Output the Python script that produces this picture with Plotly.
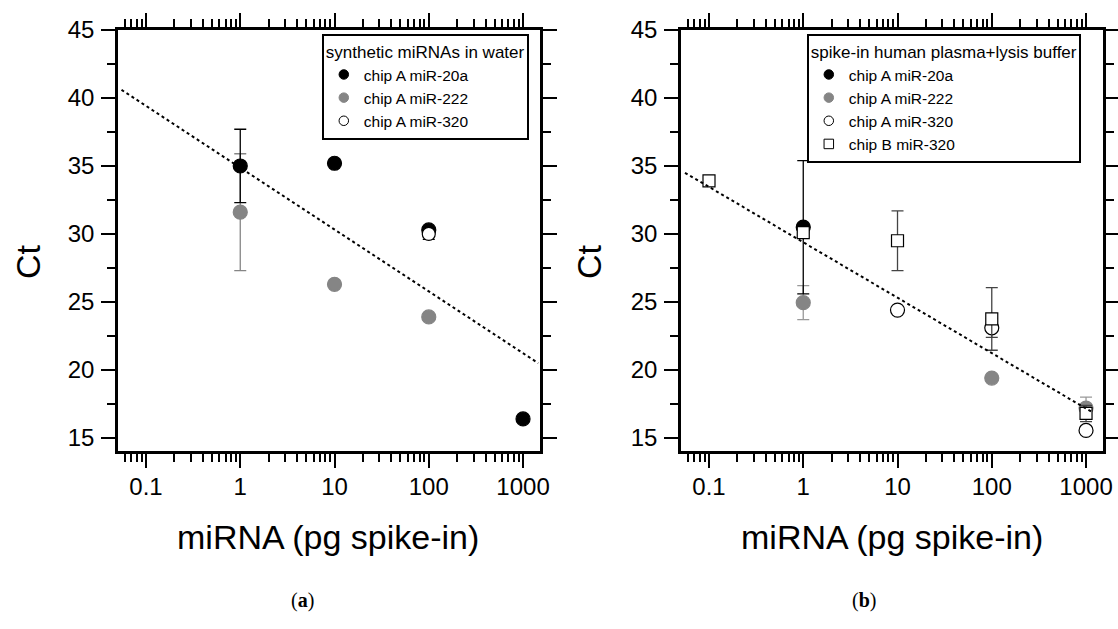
import plotly.graph_objects as go

W, H = 1118, 629

# ---------------- Panel (a): synthetic miRNAs in water ----------------
a_20a_x = [1, 10, 100, 1000]
a_20a_y = [35.0, 35.2, 30.3, 16.4]
a_20a_err = [2.7, None, None, None]

a_222_x = [1, 10, 100]
a_222_y = [31.6, 26.3, 23.9]
a_222_err = [4.3, None, None]

a_320_x = [100]
a_320_y = [30.0]
a_320_err = [0.4]

a_fit_x = [0.055, 1450]
a_fit_y = [40.6, 20.5]

# ---------------- Panel (b): spike-in human plasma+lysis buffer ----------------
b_20a_x = [1]
b_20a_y = [30.5]
b_20a_err = [4.9]

b_222_x = [1, 100, 1000]
b_222_y = [24.95, 19.4, 17.2]
b_222_err = [1.25, None, 0.8]

b_320A_x = [10, 100, 1000]
b_320A_y = [24.4, 23.1, 15.55]
b_320A_err = [None, 0.7, None]

b_320B_x = [0.1, 1, 10, 100, 1000]
b_320B_y = [33.9, 30.1, 29.5, 23.75, 16.8]
b_320B_err = [None, None, 2.2, 2.3, 0.6]

b_fit_x = [0.0556, 1160]
b_fit_y = [34.5, 16.9]

legend_a_title = "synthetic miRNAs in water"
legend_b_title = "spike-in human plasma+lysis buffer"
labels_a = ["chip A miR-20a", "chip A miR-222", "chip A miR-320"]
labels_b = ["chip A miR-20a", "chip A miR-222", "chip A miR-320", "chip B miR-320"]

y_ticks = [15, 20, 25, 30, 35, 40, 45]
x_ticks = [0.1, 1, 10, 100, 1000]
x_ticklabels = ["0.1", "1", "10", "100", "1000"]

GRAY = "#858585"
BLACK = "#000000"

fig = go.Figure()


def err(arr, color):
    return dict(type="data", array=arr, color=color, thickness=1.3, width=6, visible=True)


def add_panel(xa, ya, traces, fit_x, fit_y, legend_name, legend_entries):
    for (x, y, e, sym, size, fill, line_col, ecol) in traces:
        fig.add_trace(go.Scatter(
            x=x, y=y, mode="markers", xaxis=xa, yaxis=ya, showlegend=False,
            marker=dict(symbol=sym, size=size, color=fill,
                        line=dict(color=line_col, width=1.2)),
            error_y=err(e, ecol),
        ))
    fig.add_trace(go.Scatter(
        x=fit_x, y=fit_y, mode="lines", xaxis=xa, yaxis=ya, showlegend=False,
        line=dict(color="black", width=2, dash="dot"),
    ))
    for (name, sym, fill, line_col) in legend_entries:
        fig.add_trace(go.Scatter(
            x=[None], y=[None], mode="markers", xaxis=xa, yaxis=ya, name=name,
            legend=legend_name, showlegend=True,
            marker=dict(symbol=sym, size=9.5, color=fill,
                        line=dict(color=line_col, width=1)),
        ))


add_panel(
    "x", "y",
    [
        (a_222_x, a_222_y, a_222_err, "circle", 14, GRAY, GRAY, GRAY),
        (a_20a_x, a_20a_y, a_20a_err, "circle", 14, BLACK, BLACK, BLACK),
        (a_320_x, a_320_y, a_320_err, "circle", 13, "white", BLACK, BLACK),
    ],
    a_fit_x, a_fit_y, "legend",
    [
        (labels_a[0], "circle", BLACK, BLACK),
        (labels_a[1], "circle", GRAY, GRAY),
        (labels_a[2], "circle", "white", BLACK),
    ],
)

add_panel(
    "x2", "y2",
    [
        (b_222_x, b_222_y, b_222_err, "circle", 14, GRAY, GRAY, "#999999"),
        (b_20a_x, b_20a_y, b_20a_err, "circle", 14, BLACK, BLACK, BLACK),
        (b_320A_x, b_320A_y, b_320A_err, "circle", 14, "white", BLACK, "#444444"),
        (b_320B_x, b_320B_y, b_320B_err, "square", 12, "white", BLACK, "#444444"),
    ],
    b_fit_x, b_fit_y, "legend2",
    [
        (labels_b[0], "circle", BLACK, BLACK),
        (labels_b[1], "circle", GRAY, GRAY),
        (labels_b[2], "circle", "white", BLACK),
        (labels_b[3], "square", "white", BLACK),
    ],
)

FONT = "Liberation Sans, Arial, sans-serif"

xaxis_common = dict(
    type="log", range=[-1.297, 3.18],
    tickvals=x_ticks, ticktext=x_ticklabels,
    tickfont=dict(family=FONT, size=24, color="black"),
    showgrid=False, zeroline=False, automargin=False,
    showline=True, linecolor="black", linewidth=2.5, mirror="ticks",
    ticks="outside", ticklen=14, tickwidth=2, tickcolor="black",
    ticklabelstandoff=-2,
    minor=dict(dtick="D1", ticks="outside", ticklen=8, tickwidth=1.8, tickcolor="black", showgrid=False),
)
yaxis_common = dict(
    range=[14.04, 45],
    tickvals=y_ticks,
    tickfont=dict(family=FONT, size=24, color="black"),
    showgrid=False, zeroline=False, automargin=False,
    showline=True, linecolor="black", linewidth=2.5, mirror="ticks",
    ticks="outside", ticklen=14, tickwidth=2, tickcolor="black",
    ticklabelstandoff=2,
    minor=dict(dtick=2.5, ticks="outside", ticklen=8, tickwidth=1.8, tickcolor="black", showgrid=False),
)

ydom = [1 - 451 / H, 1 - 30 / H]

legend_common = dict(
    xanchor="left", yanchor="top",
    bgcolor="white", bordercolor="black", borderwidth=1.8,
    font=dict(family=FONT, size=15.5, color="black"),
    tracegroupgap=0, itemwidth=30,
)

fig.update_layout(
    width=W, height=H,
    margin=dict(l=0, r=0, t=0, b=0),
    paper_bgcolor="white", plot_bgcolor="white",
    xaxis=dict(xaxis_common, domain=[118 / W, 540 / W], anchor="y"),
    yaxis=dict(yaxis_common, domain=ydom, anchor="x"),
    xaxis2=dict(xaxis_common, domain=[681 / W, 1103 / W], anchor="y2"),
    yaxis2=dict(yaxis_common, domain=ydom, anchor="x2"),
    legend=dict(legend_common, x=322 / W, y=1 - 34 / H,
                title=dict(text=legend_a_title, font=dict(family=FONT, size=17, color="black"))),
    legend2=dict(legend_common, x=807 / W, y=1 - 34 / H,
                 title=dict(text=legend_b_title, font=dict(family=FONT, size=17, color="black"))),
)

annos = [
    dict(text="miRNA (pg spike-in)", x=328 / W, y=1 - 537 / H, size=34, angle=0, fam=FONT),
    dict(text="miRNA (pg spike-in)", x=892 / W, y=1 - 537 / H, size=34, angle=0, fam=FONT),
    dict(text="Ct", x=28 / W, y=1 - 262 / H, size=34, angle=-90, fam=FONT),
    dict(text="Ct", x=589 / W, y=1 - 262 / H, size=34, angle=-90, fam=FONT),
    dict(text="(<b>a</b>)", x=302 / W, y=1 - 600 / H, size=20, angle=0, fam="Liberation Serif, DejaVu Serif, serif"),
    dict(text="(<b>b</b>)", x=864 / W, y=1 - 600 / H, size=20, angle=0, fam="Liberation Serif, DejaVu Serif, serif"),
]
for a in annos:
    fig.add_annotation(
        text=a["text"], x=a["x"], y=a["y"], xref="paper", yref="paper",
        xanchor="center", yanchor="middle", showarrow=False, textangle=a["angle"],
        font=dict(family=a["fam"], size=a["size"], color="black"),
    )

fig.write_html(
    "out.html",
    config={"displayModeBar": False},
    post_script="document.body.style.margin='0px';document.body.style.overflow='hidden';",
)
